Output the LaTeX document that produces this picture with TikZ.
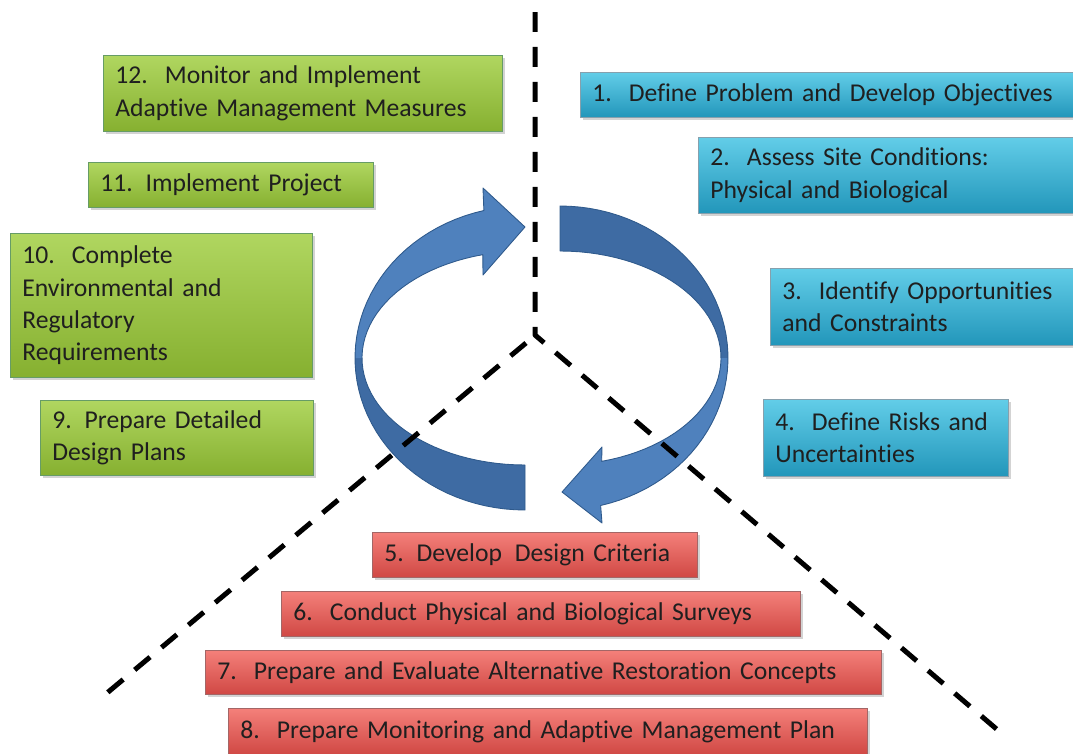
\documentclass[tikz,border=0pt]{standalone}
\usepackage{fontspec}
\setmainfont{Carlito}[Ligatures=NoCommon]
\usetikzlibrary{shadows}

\definecolor{ringlight}{HTML}{4F81BD}
\definecolor{ringdark}{HTML}{3E6BA3}
\definecolor{ringedge}{HTML}{2F5A8C}

\begin{document}
\begin{tikzpicture}[x=0.02cm, y=-0.02cm,
  box/.style={rectangle, anchor=north west, align=left, inner xsep=0.24cm, inner ysep=0pt,
    text=black!88, line width=0.4pt,
    drop shadow={shadow xshift=1.6pt, shadow yshift=-1.6pt, opacity=0.35},
    font=\fontsize{14.6}{18.4}\selectfont},
  greenbox/.style={box, draw=green!35!black!60, top color={rgb,255:red,176;green,214;blue,96},
    bottom color={rgb,255:red,134;green,176;blue,48}},
  bluebox/.style={box, draw=cyan!40!black!60, top color={rgb,255:red,98;green,205;blue,232},
    bottom color={rgb,255:red,34;green,150;blue,186}},
  redbox/.style={box, draw=red!40!black!60, top color={rgb,255:red,244;green,128;blue,122},
    bottom color={rgb,255:red,208;green,72;blue,68}},
  divider/.style={line width=0.1cm, dash pattern=on 0.4cm off 0.3cm}]

  \useasboundingbox (0,0) rectangle (1073,754);
  \clip (0,0) rectangle (1073,754);

  % Left ring arrow (bottom -> top)
  \fill[ringdark] plot[domain=90:180, samples=30] ({525+170*cos(\x)},{358+152*sin(\x)})
    -- plot[domain=180:90, samples=30] ({525+163*cos(\x)},{358+107*sin(\x)}) -- cycle;
  \fill[ringlight] plot[domain=180:256, samples=30] ({525+170*cos(\x)},{358+152*sin(\x)})
    -- (483,188) -- (525,227) -- (483,275)
    -- plot[domain=255:180, samples=30] ({525+163*cos(\x)},{358+107*sin(\x)}) -- cycle;
  \draw[ringedge, line width=0.5pt, line join=round] plot[domain=90:256, samples=50] ({525+170*cos(\x)},{358+152*sin(\x)})
    -- (483,188) -- (525,227) -- (483,275)
    -- plot[domain=255:90, samples=50] ({525+163*cos(\x)},{358+107*sin(\x)}) -- cycle;

  % Right ring arrow (top -> bottom)
  \fill[ringdark] plot[domain=-90:0, samples=30] ({560+168*cos(\x)},{358+152*sin(\x)})
    -- plot[domain=0:-90, samples=30] ({560+161*cos(\x)},{358+107*sin(\x)}) -- cycle;
  \fill[ringlight] plot[domain=0:76, samples=30] ({560+168*cos(\x)},{358+152*sin(\x)})
    -- (602,523) -- (562,492) -- (602,447)
    -- plot[domain=75:0, samples=30] ({560+161*cos(\x)},{358+107*sin(\x)}) -- cycle;
  \draw[ringedge, line width=0.5pt, line join=round] plot[domain=-90:76, samples=50] ({560+168*cos(\x)},{358+152*sin(\x)})
    -- (602,523) -- (562,492) -- (602,447)
    -- plot[domain=75:-90, samples=50] ({560+161*cos(\x)},{358+107*sin(\x)}) -- cycle;

  % Dividers
  \coordinate (hub) at (535,335);
  \coordinate (top) at (535,12);
  \coordinate (lowleft) at (107,693);
  \coordinate (lowright) at (1000,732);
  \draw[divider, line join=round] (top) -- (hub) -- (lowright);
  \draw[divider] (hub) ++(-9,8) -- (lowleft);

  % Green steps
  \node[greenbox, text width=7.50cm, minimum height=1.52cm] (s12) at (103,55) {12.\, Monitor and Implement\\Adaptive Management Measures};
  \node[greenbox, text width=5.22cm, minimum height=0.90cm] (s11) at (88,162) {11. Implement Project};
  \node[greenbox, text width=5.56cm, minimum height=2.88cm] (s10) at (10,233) {10.\, Complete\\Environmental and\\Regulatory\\Requirements};
  \node[greenbox, text width=4.98cm, minimum height=1.50cm] (s9) at (40,400) {9. Prepare Detailed\\Design Plans};

  % Blue steps
  \node[bluebox, text width=9.72cm, minimum height=0.90cm] (s1) at (580,72) {1.\, Define Problem and Develop Objectives};
  \node[bluebox, text width=7.36cm, minimum height=1.52cm] (s2) at (698,137) {2.\, Assess Site Conditions:\\Physical and Biological};
  \node[bluebox, text width=5.92cm, minimum height=1.54cm] (s3) at (770,268) {3.\, Identify Opportunities\\and Constraints};
  \node[bluebox, text width=4.42cm, minimum height=1.54cm] (s4) at (763,399) {4.\, Define Risks and\\Uncertainties};

  % Red steps
  \node[redbox, text width=6.02cm, minimum height=0.90cm] (s5) at (372,532) {5. Develop\, Design Criteria};
  \node[redbox, text width=9.90cm, minimum height=0.90cm] (s6) at (281,591) {6.\, Conduct Physical and Biological Surveys};
  \node[redbox, text width=13.04cm, minimum height=0.88cm] (s7) at (205,650) {7.\, Prepare and Evaluate Alternative Restoration Concepts};
  \node[redbox, text width=12.30cm, minimum height=0.92cm] (s8) at (228,708) {8.\, Prepare Monitoring and Adaptive Management Plan};

\end{tikzpicture}
\end{document}
